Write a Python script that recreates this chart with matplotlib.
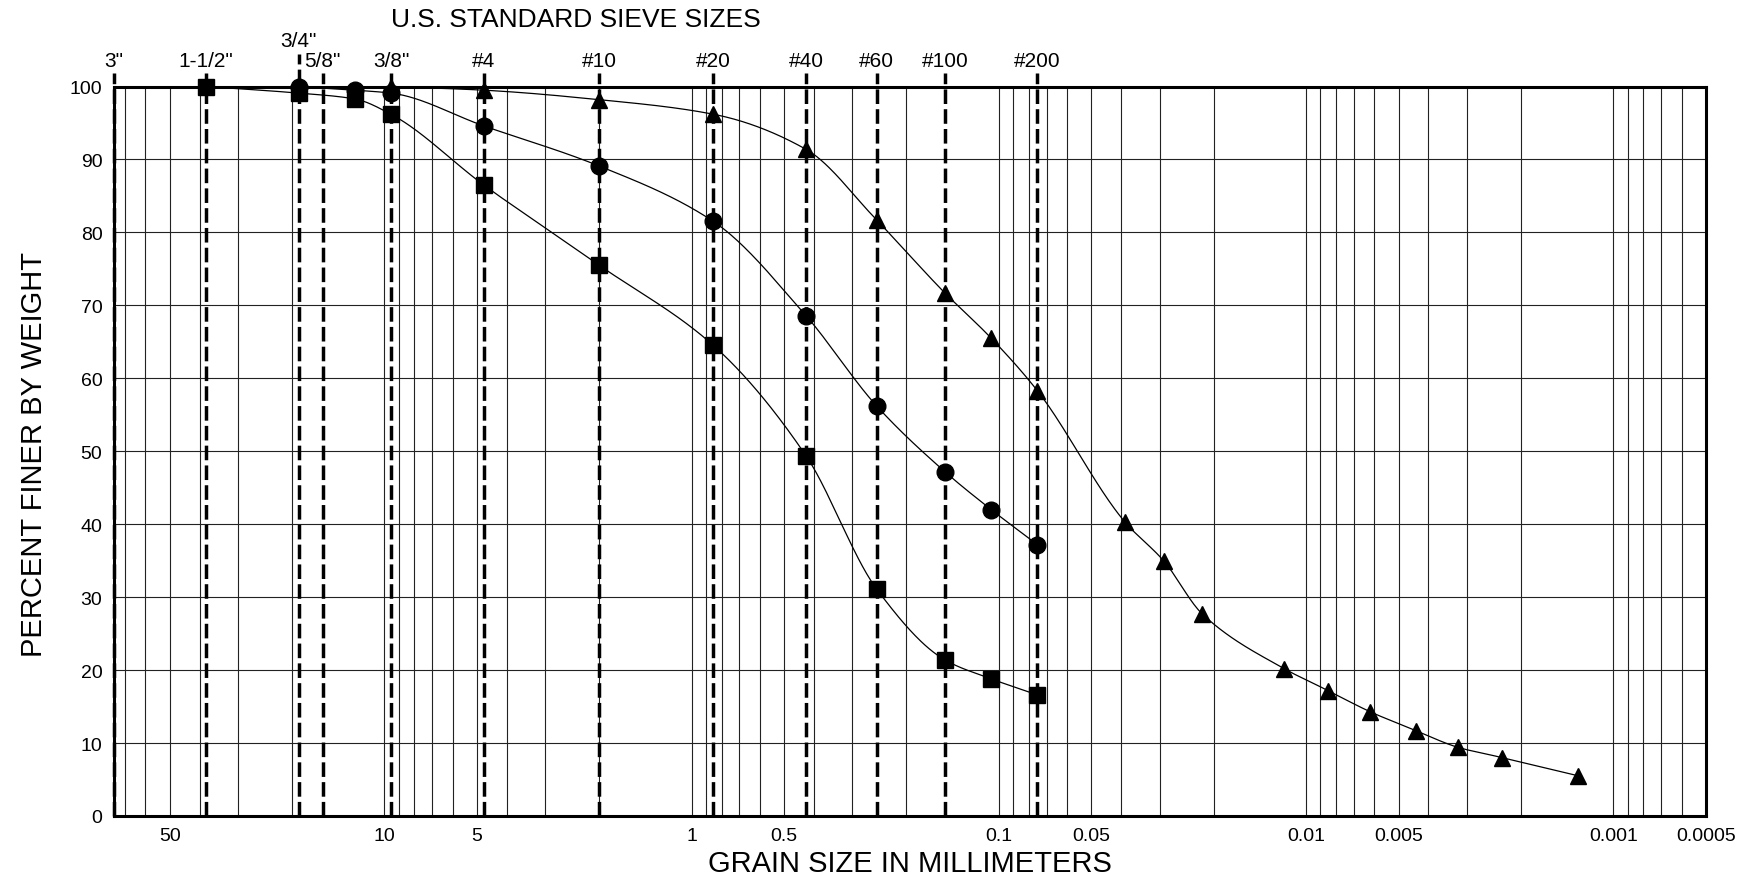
import numpy as np
import matplotlib
matplotlib.use('Agg')
import matplotlib.pyplot as plt
from matplotlib.transforms import blended_transform_factory
from matplotlib.ticker import FixedLocator, FixedFormatter, NullFormatter

plt.rcParams['font.family'] = ['Liberation Sans', 'DejaVu Sans']

# US standard sieves: name and opening in mm
sieve_names = ['3"', '1-1/2"', '3/4"', '5/8"', '3/8"', '#4', '#10', '#20', '#40', '#60', '#100', '#200']
sieve_mm = [76.2, 38.1, 19.05, 15.875, 9.525, 4.75, 2.0, 0.85, 0.425, 0.25, 0.15, 0.075]

# sample 1 (squares)
sq_mm = [38.1, 19.05, 12.5, 9.525, 4.75, 2.0, 0.85, 0.425, 0.25, 0.15, 0.106, 0.075]
sq_pct = [100, 99.1, 98.3, 96.2, 86.5, 75.5, 64.5, 49.4, 31.1, 21.4, 18.8, 16.6]

# sample 2 (circles)
ci_mm = [19.05, 12.5, 9.525, 4.75, 2.0, 0.85, 0.425, 0.25, 0.15, 0.106, 0.075]
ci_pct = [100, 99.5, 99.1, 94.6, 89.1, 81.5, 68.6, 56.2, 47.2, 42.0, 37.2]

# sample 3 (triangles), sieve + hydrometer
tr_mm = [9.525, 4.75, 2.0, 0.85, 0.425, 0.25, 0.15, 0.106, 0.075,
         0.0389, 0.0290, 0.0218, 0.0118, 0.0085, 0.0062, 0.0044, 0.0032, 0.0023, 0.0013]
tr_pct = [100, 99.5, 98.2, 96.2, 91.4, 81.7, 71.7, 65.5, 58.3,
          40.3, 34.9, 27.7, 20.2, 17.2, 14.3, 11.7, 9.4, 8.0, 5.5]

xtick_vals = [50, 10, 5, 1, 0.5, 0.1, 0.05, 0.01, 0.005, 0.001, 0.0005]
xtick_labels = ['50', '10', '5', '1', '0.5', '0.1', '0.05', '0.01', '0.005', '0.001', '0.0005']
ytick_vals = list(range(0, 101, 10))


def pchip(x, y, xn):
    # monotone cubic through the points (x increasing)
    x = np.asarray(x, float)
    y = np.asarray(y, float)
    h = np.diff(x)
    delta = np.diff(y) / h
    n = len(x)
    d = np.zeros(n)
    for k in range(1, n - 1):
        if delta[k - 1] * delta[k] > 0:
            w1 = 2 * h[k] + h[k - 1]
            w2 = h[k] + 2 * h[k - 1]
            d[k] = (w1 + w2) / (w1 / delta[k - 1] + w2 / delta[k])
    d[0] = delta[0]
    d[-1] = delta[-1]
    idx = np.clip(np.searchsorted(x, xn) - 1, 0, n - 2)
    t = (xn - x[idx]) / h[idx]
    h00 = 2 * t**3 - 3 * t**2 + 1
    h10 = t**3 - 2 * t**2 + t
    h01 = -2 * t**3 + 3 * t**2
    h11 = t**3 - t**2
    return h00 * y[idx] + h10 * h[idx] * d[idx] + h01 * y[idx + 1] + h11 * h[idx] * d[idx + 1]


fig = plt.figure(figsize=(17.6, 8.78), dpi=100)
ax = fig.add_axes([0.0645, 0.0695, 0.9048, 0.8308])

ax.set_xscale('log')
ax.set_xlim(76.2, 0.0005)
ax.set_ylim(0, 100)

# log grid: every 1..9 x 10^n
minor = [k * 10.0**n for n in range(-4, 2) for k in range(1, 10)]
minor = [v for v in minor if 0.0005 < v < 76.2]
ax.xaxis.set_major_locator(FixedLocator(xtick_vals))
ax.xaxis.set_major_formatter(FixedFormatter(xtick_labels))
ax.xaxis.set_minor_locator(FixedLocator(minor))
ax.xaxis.set_minor_formatter(NullFormatter())
ax.set_yticks(ytick_vals)
ax.tick_params(axis='both', which='both', length=0, labelsize=14, pad=8)
ax.grid(True, axis='x', which='both', color='#222222', lw=0.8, zorder=1)
ax.grid(True, axis='y', which='major', color='#222222', lw=0.8, zorder=1)
ax.set_axisbelow(True)
for s in ax.spines.values():
    s.set_linewidth(2.2)
    s.set_zorder(5)

# sieve lines and names along the top
tr = blended_transform_factory(ax.transData, ax.transAxes)
for name, mm in zip(sieve_names, sieve_mm):
    top = 1.045 if name == '3/4"' else 1.018
    ax.plot([mm, mm], [0, top], transform=tr, color='black', lw=2.5,
            linestyle=(0, (4.2, 1.5)), clip_on=False, zorder=3)
    ty = 1.063 if name == '3/4"' else 1.036
    ax.text(mm, ty, name, transform=tr, ha='center', va='center', fontsize=15)

# gradation curves
for xs, ys, m in [(sq_mm, sq_pct, 's'), (ci_mm, ci_pct, 'o'), (tr_mm, tr_pct, '^')]:
    lx = np.log10(xs)[::-1]
    ly = np.asarray(ys, float)[::-1]
    xn = np.linspace(lx[0], lx[-1], 600)
    ax.plot(10**xn, pchip(lx, ly, xn), color='black', lw=0.9, zorder=4, clip_on=False)
    ax.plot(xs, ys, m, color='black', ms=12, mew=1, linestyle='none', zorder=6, clip_on=False)

fig.text(0.327, 0.977, 'U.S. STANDARD SIEVE SIZES', ha='center', va='center', fontsize=19)
fig.text(0.517, 0.016, 'GRAIN SIZE IN MILLIMETERS', ha='center', va='center', fontsize=21)
fig.text(0.0193, 0.482, 'PERCENT FINER BY WEIGHT', ha='center', va='center', rotation=90, fontsize=21)

fig.savefig('out.png', dpi=100)
